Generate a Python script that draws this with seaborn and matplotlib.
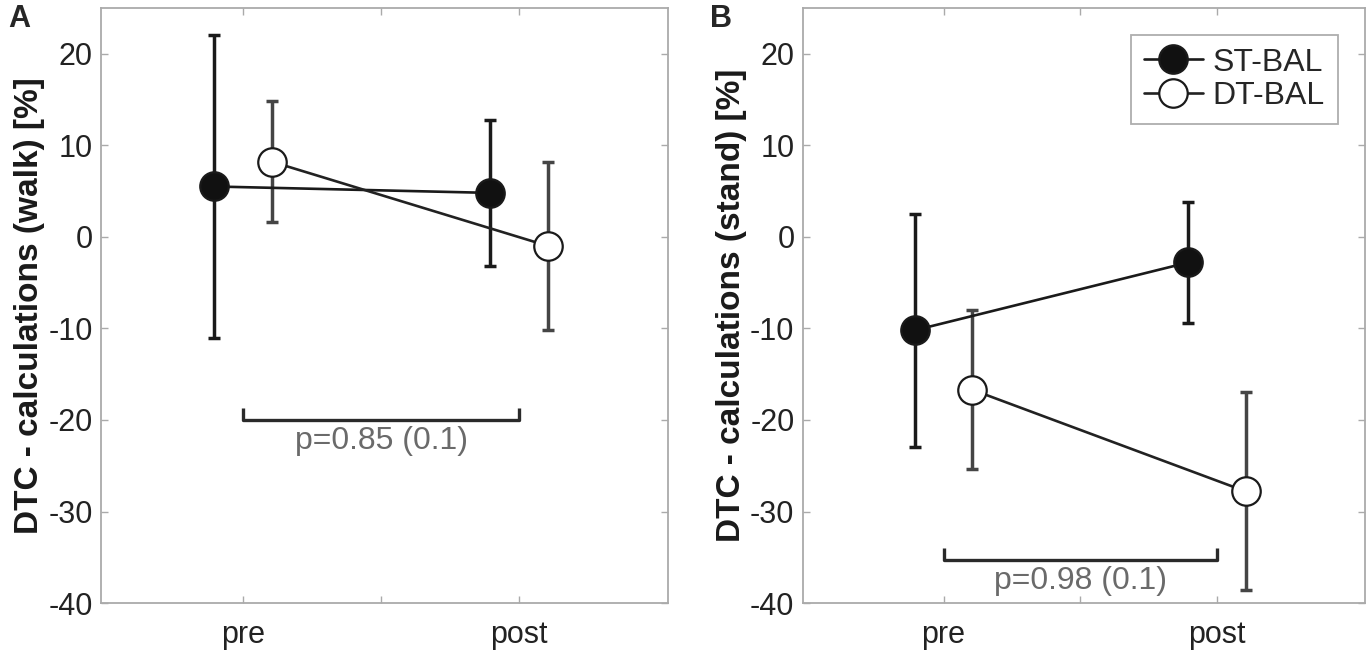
import numpy as np
import pandas as pd
import matplotlib
matplotlib.use("Agg")
import matplotlib.pyplot as plt
import seaborn as sns

# Data (mean and SD per time point)
times = ["pre", "post"]
groups = ["ST-BAL", "DT-BAL"]

walk_st_mean = [5.5, 4.8]
walk_st_sd = [16.5, 8.0]
walk_dt_mean = [8.2, -1.0]
walk_dt_sd = [6.6, 9.2]

stand_st_mean = [-10.2, -2.8]
stand_st_sd = [12.7, 6.6]
stand_dt_mean = [-16.7, -27.8]
stand_dt_sd = [8.7, 10.8]

p_labels = ["p=0.85 (0.1)", "p=0.98 (0.1)"]
bracket_y = [-20.0, -35.3]
ylabels = ["DTC - calculations (walk) [%]", "DTC - calculations (stand) [%]"]
panel_letters = ["A", "B"]

sns.set_theme(style="white")
plt.rcParams['font.family'] = ['Liberation Sans', 'DejaVu Sans']
plt.rcParams['axes.unicode_minus'] = False

fig = plt.figure(figsize=(13.7, 6.62), dpi=100)
ax_a = fig.add_axes([0.0737, 0.089, 0.414, 0.899])
ax_b = fig.add_axes([0.586, 0.089, 0.410, 0.899])

dodge = {"ST-BAL": -0.105, "DT-BAL": 0.105}
styles = {
    "ST-BAL": dict(face="#111111", line="#1a1a1a", err="#1a1a1a"),
    "DT-BAL": dict(face="white", line="#222222", err="#454545"),
}


def make_df(st_mean, st_sd, dt_mean, dt_sd):
    rows = []
    for g, m, s in [("ST-BAL", st_mean, st_sd), ("DT-BAL", dt_mean, dt_sd)]:
        for i, t in enumerate(times):
            rows.append({"group": g, "time": t, "tpos": i + 1 + dodge[g],
                         "mean": m[i], "sd": s[i]})
    return pd.DataFrame(rows)


panels = [
    make_df(walk_st_mean, walk_st_sd, walk_dt_mean, walk_dt_sd),
    make_df(stand_st_mean, stand_st_sd, stand_dt_mean, stand_dt_sd),
]

for k, (ax, df) in enumerate(zip([ax_a, ax_b], panels)):
    for g in groups:
        sub = df[df["group"] == g]
        st = styles[g]
        ax.errorbar(sub["tpos"], sub["mean"], yerr=sub["sd"], fmt="none",
                    ecolor=st["err"], elinewidth=2.5, capsize=4.2, capthick=2.5,
                    zorder=2)
        sns.lineplot(data=sub, x="tpos", y="mean", ax=ax, color=st["line"],
                     linewidth=1.9, marker="o", markersize=20.5,
                     markerfacecolor=st["face"], markeredgecolor="#1a1a1a",
                     markeredgewidth=1.6, label=g, zorder=3, legend=False)

    # significance bracket between pre and post
    yb = bracket_y[k]
    ax.plot([1, 1, 2, 2], [yb + 1.3, yb, yb, yb + 1.3], color="#2a2a2a",
            linewidth=2.4, solid_capstyle="butt", zorder=1)
    ax.text(1.5, yb - 2.3, p_labels[k], ha="center", va="center", fontsize=23,
            color="#6a6a6a")

    ax.set_xlim(0.485, 2.54)
    ax.set_ylim(-40, 25)
    ax.set_xticks([1, 1.5, 2])
    ax.set_xticklabels(["pre", "", "post"])
    ax.set_yticks(np.arange(-40, 21, 10))
    ax.set_xlabel("")
    ax.set_ylabel(ylabels[k], fontsize=24, fontweight="bold", color="#1a1a1a",
                  labelpad=2)
    ax.tick_params(axis="both", direction="in", length=5, width=1,
                   color="#aaaaaa", labelsize=22, labelcolor="#222222",
                   top=True, right=True, bottom=True, left=True, pad=6)
    ax.tick_params(axis="x", pad=12)
    for sp in ax.spines.values():
        sp.set_color("#aaaaaa")
        sp.set_linewidth(1.3)
    ax.grid(False)

    fig.text(ax.get_position().x0 - 0.068, 0.972, panel_letters[k],
             fontsize=22, fontweight="bold", ha="left", va="center")

leg = ax_b.legend(loc="upper right", bbox_to_anchor=(0.952, 0.955), fontsize=23,
                  frameon=True, fancybox=False, handlelength=1.85,
                  handletextpad=0.3, borderpad=0.4, labelspacing=0.12,
                  borderaxespad=0.0, markerscale=1.0)
leg.get_frame().set_edgecolor("#999999")
leg.get_frame().set_linewidth(1.3)

fig.savefig("out.png", dpi=100)
